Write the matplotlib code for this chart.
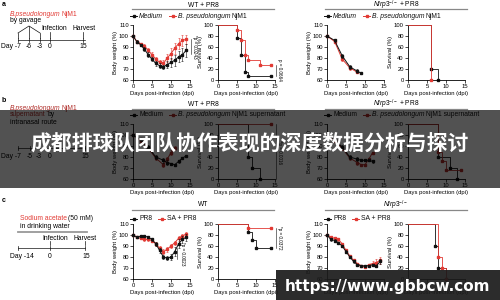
import matplotlib.pyplot as plt
import matplotlib.patches as mpatches

plt.rcParams['font.family'] = ['Liberation Sans', 'DejaVu Sans']
plt.rcParams['mathtext.fontset'] = 'custom'
plt.rcParams['mathtext.rm'] = 'Liberation Sans'
plt.rcParams['mathtext.it'] = 'Liberation Sans:italic'

BLACK = '#111111'
RED = '#e23a34'
DARK_RED = '#b02e2a'
FS = 4.2

# ---------------- data ----------------
# a: WT + PR8, body weight
a_wt_days = list(range(15))
a_wt_med = [100, 95, 92, 88, 83, 79, 75, 73, 72, 74, 76, 78, 81, 83, 87]
a_wt_med_err = [0, 1, 1, 2, 2, 2, 2, 2, 2, 3, 4, 5, 5, 6, 6]
a_wt_njm = [100, 95, 93, 91, 87, 83, 79, 76, 75, 80, 84, 89, 93, 96, 97]
a_wt_njm_err = [0, 1, 1, 2, 2, 2, 2, 2, 3, 4, 5, 5, 5, 5, 4]
# a: WT + PR8, survival
a_wt_sv_med_t = [0, 5, 6, 7, 8, 14]
a_wt_sv_med = [100, 77, 46, 15, 8, 8]
a_wt_sv_njm_t = [0, 5, 6, 7, 8, 11, 14]
a_wt_sv_njm = [100, 91, 73, 46, 36, 27, 27]
# a: Nlrp3-/- + PR8
a_ko_med_days = [0, 2, 4, 6, 8, 9]
a_ko_med = [100, 96, 82, 72, 68, 66]
a_ko_med_err = [0, 1, 2, 2, 2, 0]
a_ko_njm_days = [0, 2, 4, 6, 8]
a_ko_njm = [100, 95, 79, 71, 67]
a_ko_njm_err = [0, 1, 2, 2, 1]
a_ko_sv_med_t = [0, 6, 8]
a_ko_sv_med = [100, 20, 0]
a_ko_sv_njm_t = [0, 6]
a_ko_sv_njm = [100, 0]

# b: supernatant, WT + PR8
b_wt_med_days = [0, 2, 4, 6, 8, 9, 10, 11, 12, 13, 14]
b_wt_med = [100, 96, 89, 80, 77, 75, 74, 73, 76, 79, 81]
b_wt_med_err = [0, 1, 2, 2, 2, 2, 1, 1, 1, 1, 1]
b_wt_sup_days = [0, 2, 4, 6, 8, 9, 10, 11]
b_wt_sup = [100, 95, 88, 79, 73, 78, 84, 88]
b_wt_sup_err = [0, 1, 2, 2, 2, 2, 2, 2]
b_wt_sv_med_t = [0, 8, 9, 11]
b_wt_sv_med = [100, 40, 20, 0]
b_wt_sv_sup_t = [0, 14]
b_wt_sv_sup = [100, 100]
# b: Nlrp3-/- + PR8
b_ko_days = [0, 2, 4, 6, 8, 9, 10, 11, 12]
b_ko_med = [100, 96, 89, 80, 78, 77, 77, 77, 76]
b_ko_med_err = [0, 1, 2, 2, 2, 1, 1, 1, 1]
b_ko_sup = [100, 95, 88, 79, 75, 73, 73, 78, 84]
b_ko_sup_err = [0, 1, 2, 2, 2, 1, 1, 1, 1]
b_ko_sv_med_t = [0, 8, 11, 13]
b_ko_sv_med = [100, 40, 20, 0]
b_ko_sv_sup_t = [0, 8, 9, 10, 14]
b_ko_sv_sup = [100, 50, 33, 17, 17]

# c: sodium acetate, WT
c_days = list(range(15))
c_wt_pr8 = [100, 98, 99, 99, 98, 96, 92, 86, 80, 79, 80, 85, 92, 96, 98]
c_wt_pr8_err = [0, 1, 1, 1, 1, 1, 2, 2, 2, 2, 3, 4, 4, 3, 3]
c_wt_sa = [100, 98, 97, 96, 96, 95, 92, 88, 85, 87, 90, 93, 97, 99, 101]
c_wt_sa_err = [0, 1, 1, 1, 1, 1, 2, 2, 2, 2, 2, 2, 2, 2, 2]
c_wt_sv_pr8_t = [0, 8, 9, 10, 14]
c_wt_sv_pr8 = [100, 86, 71, 57, 57]
c_wt_sv_sa_t = [0, 8, 14]
c_wt_sv_sa = [100, 92, 92]
# c: Nlrp3-/-
c_ko_pr8 = [100, 96, 95, 93, 90, 85, 80, 76, 73, 72, 72, 72, 73, 72, 76]
c_ko_pr8_err = [0, 1, 1, 1, 1, 1, 1, 1, 1, 1, 1, 1, 1, 1, 2]
c_ko_sa = [100, 98, 97, 96, 92, 86, 81, 77, 74, 72, 71, 73, 74, 75, 77]
c_ko_sa_err = [0, 1, 1, 1, 1, 1, 1, 1, 1, 1, 1, 1, 2, 3, 3]
c_ko_sv_pr8_t = [0, 7, 8, 10]
c_ko_sv_pr8 = [100, 60, 20, 0]
c_ko_sv_sa_t = [0, 8, 9, 10]
c_ko_sv_sa = [100, 40, 20, 0]

fig = plt.figure(figsize=(5, 3), dpi=100)
renderer = fig.canvas.get_renderer()

# overlay in pixel coordinates for schematics / headers / legends
ov = fig.add_axes([0, 0, 1, 1])
ov.set_xlim(0, 500)
ov.set_ylim(300, 0)
ov.axis('off')


def rich(x, y, pieces, fs=4.9, gap=1.0):
    # pieces: (text, style, color), drawn one after another with a small gap
    for txt, st, col in pieces:
        t = ov.text(x, y, txt, fontstyle=st, color=col, fontsize=fs, va='center', ha='left')
        x += t.get_window_extent(renderer).width + gap
    return x


def legend_at(x, y, entries):
    for col, pieces in entries:
        ov.plot([x, x + 7], [y, y], color=col, lw=0.7)
        ov.plot([x + 3.5], [y], 's', color=col, ms=2)
        x = rich(x + 9, y, pieces) + 5


def px_axes(left, top, width=57, height=55):
    return fig.add_axes([left / 500, 1 - (top + height) / 300, width / 500, height / 300])


def style(ax, survival):
    for s in ['top', 'right']:
        ax.spines[s].set_visible(False)
    for s in ['left', 'bottom']:
        ax.spines[s].set_linewidth(0.6)
    ax.set_xlim(0, 15)
    ax.set_xticks([0, 5, 10, 15])
    if survival:
        ax.set_ylim(0, 100)
        ax.set_yticks(range(0, 101, 20))
        ax.set_ylabel('Survival (%)', fontsize=FS, labelpad=1)
    else:
        ax.set_ylim(60, 110)
        ax.set_yticks(range(60, 111, 10))
        ax.set_ylabel('Body weight (%)', fontsize=FS, labelpad=1)
    ax.set_xlabel('Days post-infection (dpi)', fontsize=FS, labelpad=1)
    ax.tick_params(labelsize=FS, length=2, width=0.5, pad=1)


def weight(ax, d1, v1, e1, d2, v2, e2, red):
    ax.errorbar(d2, v2, yerr=e2, color=red, marker='s', ms=1.8, lw=0.7,
                elinewidth=0.4, capsize=1, capthick=0.4, clip_on=False, zorder=3)
    ax.errorbar(d1, v1, yerr=e1, color=BLACK, marker='s', ms=1.8, lw=0.7,
                elinewidth=0.4, capsize=1, capthick=0.4, clip_on=False, zorder=4)
    style(ax, False)


def survival(ax, t1, s1, t2, s2, red):
    ax.step(t1, s1, where='post', color=BLACK, lw=0.6, clip_on=False, zorder=2)
    ax.plot(t1[1:], s1[1:], 's', color=BLACK, ms=1.8, clip_on=False, zorder=2)
    ax.step(t2, s2, where='post', color=red, lw=0.6, clip_on=False, zorder=3)
    ax.plot(t2[1:], s2[1:], 's', color=red, ms=1.8, clip_on=False, zorder=3)
    style(ax, True)


def pnote(ax, x, y0, y1, text, dx=0.8):
    ax.plot([x, x], [y0, y1], color=BLACK, lw=0.4, clip_on=False)
    ax.text(x + dx, (y0 + y1) / 2, text, rotation=270, fontsize=3.3,
            ha='center', va='center', clip_on=False)


cols = [133, 218, 327, 408]
tops = [25, 124, 224]

# ---- row a ----
ax = px_axes(cols[0], tops[0])
weight(ax, a_wt_days, a_wt_med, a_wt_med_err, a_wt_days, a_wt_njm, a_wt_njm_err, RED)
pnote(ax, 15.3, 84, 97, '*p = 0.0243')
ax = px_axes(cols[1], tops[0])
survival(ax, a_wt_sv_med_t, a_wt_sv_med, a_wt_sv_njm_t, a_wt_sv_njm, RED)
pnote(ax, 15.3, 8, 27, 'p = 0.0664')
ax = px_axes(cols[2], tops[0])
weight(ax, a_ko_med_days, a_ko_med, a_ko_med_err, a_ko_njm_days, a_ko_njm, a_ko_njm_err, RED)
ax = px_axes(cols[3], tops[0])
survival(ax, a_ko_sv_med_t, a_ko_sv_med, a_ko_sv_njm_t, a_ko_sv_njm, RED)

# ---- row b ----
ax = px_axes(cols[0], tops[1])
weight(ax, b_wt_med_days, b_wt_med, b_wt_med_err, b_wt_sup_days, b_wt_sup, b_wt_sup_err, DARK_RED)
ax = px_axes(cols[1], tops[1])
survival(ax, b_wt_sv_med_t, b_wt_sv_med, b_wt_sv_sup_t, b_wt_sv_sup, DARK_RED)
pnote(ax, 15.3, 0, 100, '**p = 0.0016')
ax = px_axes(cols[2], tops[1])
weight(ax, b_ko_days, b_ko_med, b_ko_med_err, b_ko_days, b_ko_sup, b_ko_sup_err, DARK_RED)
ax = px_axes(cols[3], tops[1])
survival(ax, b_ko_sv_med_t, b_ko_sv_med, b_ko_sv_sup_t, b_ko_sv_sup, DARK_RED)

# ---- row c ----
ax = px_axes(cols[0], tops[2])
weight(ax, c_days, c_wt_pr8, c_wt_pr8_err, c_days, c_wt_sa, c_wt_sa_err, RED)
pnote(ax, 11.6, 78, 88, '*p = 0.0023', dx=1.5)
ax = px_axes(cols[1], tops[2])
survival(ax, c_wt_sv_pr8_t, c_wt_sv_pr8, c_wt_sv_sa_t, c_wt_sv_sa, RED)
pnote(ax, 15.3, 57, 92, '*p = 0.0372')
ax = px_axes(cols[2], tops[2])
weight(ax, c_days, c_ko_pr8, c_ko_pr8_err, c_days, c_ko_sa, c_ko_sa_err, RED)
ax = px_axes(cols[3], tops[2])
survival(ax, c_ko_sv_pr8_t, c_ko_sv_pr8, c_ko_sv_sa_t, c_ko_sv_sa, RED)

# ---- legends ----
N = 'normal'
I = 'italic'
njm = [('B. pseudolongum', I, BLACK), ('NjM1', N, BLACK)]
sup = [('B. pseudolongum', I, BLACK), ('NjM1 supernatant', N, BLACK)]
for lx in [130, 324]:
    legend_at(lx, 16, [(BLACK, [('Medium', I, BLACK)]), (RED, njm)])
    legend_at(lx, 115, [(BLACK, [('Medium', N, BLACK)]), (DARK_RED, sup)])
    legend_at(lx, 219, [(BLACK, [('PR8', N, BLACK)]), (RED, [('SA + PR8', N, BLACK)])])

# ---- headers ----
KO = r'$\it{Nlrp3}^{-/-}$'
for ly, ty, wt, ko in [(9, 5.5, 'WT + PR8', KO + ' + PR8'),
                       (109, 104.5, 'WT + PR8', KO + ' + PR8'),
                       (210, 205, 'WT', KO)]:
    ov.plot([132, 274], [ly, ly], color='#888888', lw=0.9)
    ov.plot([325, 467], [ly, ly], color='#888888', lw=0.9)
    ov.text(203, ty, wt, ha='center', va='center', fontsize=4.8)
    ov.text(396, ty, ko, ha='center', va='center', fontsize=4.8)

# ---- panel letters ----
for lab, y in [('a', 4), ('b', 101), ('c', 201)]:
    ov.text(2, y, lab, fontsize=5, fontweight='bold', va='center')

ST = dict(fontsize=4.9, va='center')
LW = 0.5

# schematic a
rich(10, 14, [('B.pseudolongum', I, RED), ('NjM1', N, RED)])
ov.text(10, 21, 'by gavage', **ST)
ov.plot([18, 29, 40], [33, 26, 33], color=BLACK, lw=LW)
ov.plot([29, 29], [26, 38], color=BLACK, lw=LW)
ov.plot([18, 18], [33, 38], color=BLACK, lw=LW)
ov.plot([40, 40], [33, 38], color=BLACK, lw=LW)
ov.plot([18, 85], [40, 40], color=BLACK, lw=LW)
for x in [18, 29, 40, 50, 83]:
    ov.plot([x, x], [38, 42], color=BLACK, lw=LW)
ov.plot([50, 50], [32, 38], color=BLACK, lw=LW)
ov.plot([83, 83], [32, 38], color=BLACK, lw=LW)
ov.text(54, 28, 'Infection', ha='center', **ST)
ov.text(84, 28, 'Harvest', ha='center', **ST)
ov.text(21, 46, 'Day -7', ha='right', **ST)
for x, t in [(29, '-6'), (40, '-3'), (50, '0'), (83, '15')]:
    ov.text(x, 46, t, ha='center', **ST)

# schematic b
rich(10, 108, [('B.pseudolongum', I, DARK_RED), ('NjM1', N, DARK_RED)])
rich(10, 115, [('supernatant', N, DARK_RED), ('by', N, BLACK)], gap=1.8)
ov.text(10, 122, 'intranasal route', **ST)
ov.plot([18, 85], [148, 148], color=BLACK, lw=LW)
for x in [18, 30, 39, 50, 85]:
    ov.plot([x, x], [146, 150], color=BLACK, lw=LW)
ov.text(21, 157, 'Day -7', ha='right', **ST)
for x, t in [(30, '-5'), (39, '-3'), (50, '0'), (85, '15')]:
    ov.text(x, 157, t, ha='center', **ST)

# schematic c
rich(20, 219, [('Sodium acetate', N, RED), ('(50 mM)', N, BLACK)], gap=1.2)
ov.text(20, 227, 'in drinking water', **ST)
ov.plot([18, 87], [232, 232], color='#999999', lw=1.3)
ov.text(55, 238, 'Infection', ha='center', **ST)
ov.text(85, 238, 'Harvest', ha='center', **ST)
ov.plot([18, 85], [248, 248], color=BLACK, lw=LW)
for x in [18, 50, 85]:
    ov.plot([x, x], [246, 250], color=BLACK, lw=LW)
ov.plot([50, 50], [241, 245], color=BLACK, lw=LW)
ov.plot([85, 85], [241, 245], color=BLACK, lw=LW)
ov.text(22, 257, 'Day -14', ha='center', **ST)
ov.text(50, 257, '0', ha='center', **ST)
ov.text(86, 257, '15', ha='center', **ST)

# ---- banner overlay ----
fig.add_artist(mpatches.Rectangle((0, 1 - 188 / 300), 1, 78 / 300, transform=fig.transFigure,
                                  facecolor='black', alpha=0.68, edgecolor='none', zorder=10))
fig.text(0.5, 1 - 143 / 300, '成都排球队团队协作表现的深度数据分析与探讨',
         family=['Noto Sans CJK SC', 'DejaVu Sans'], fontsize=15, fontweight='bold',
         color='white', ha='center', va='center', zorder=11)

# ---- watermark ----
fig.add_artist(mpatches.Rectangle((276 / 500, 0), 224 / 500, 30 / 300, transform=fig.transFigure,
                                  facecolor='#1a1a1a', alpha=0.92, edgecolor='none', zorder=10))
fig.text(388 / 500, 1 - 286 / 300, 'https://www.gbbcw.com', family='DejaVu Sans',
         fontsize=11, fontweight='bold', color='white', ha='center', va='center', zorder=11)

fig.savefig('out.png', dpi=100)
